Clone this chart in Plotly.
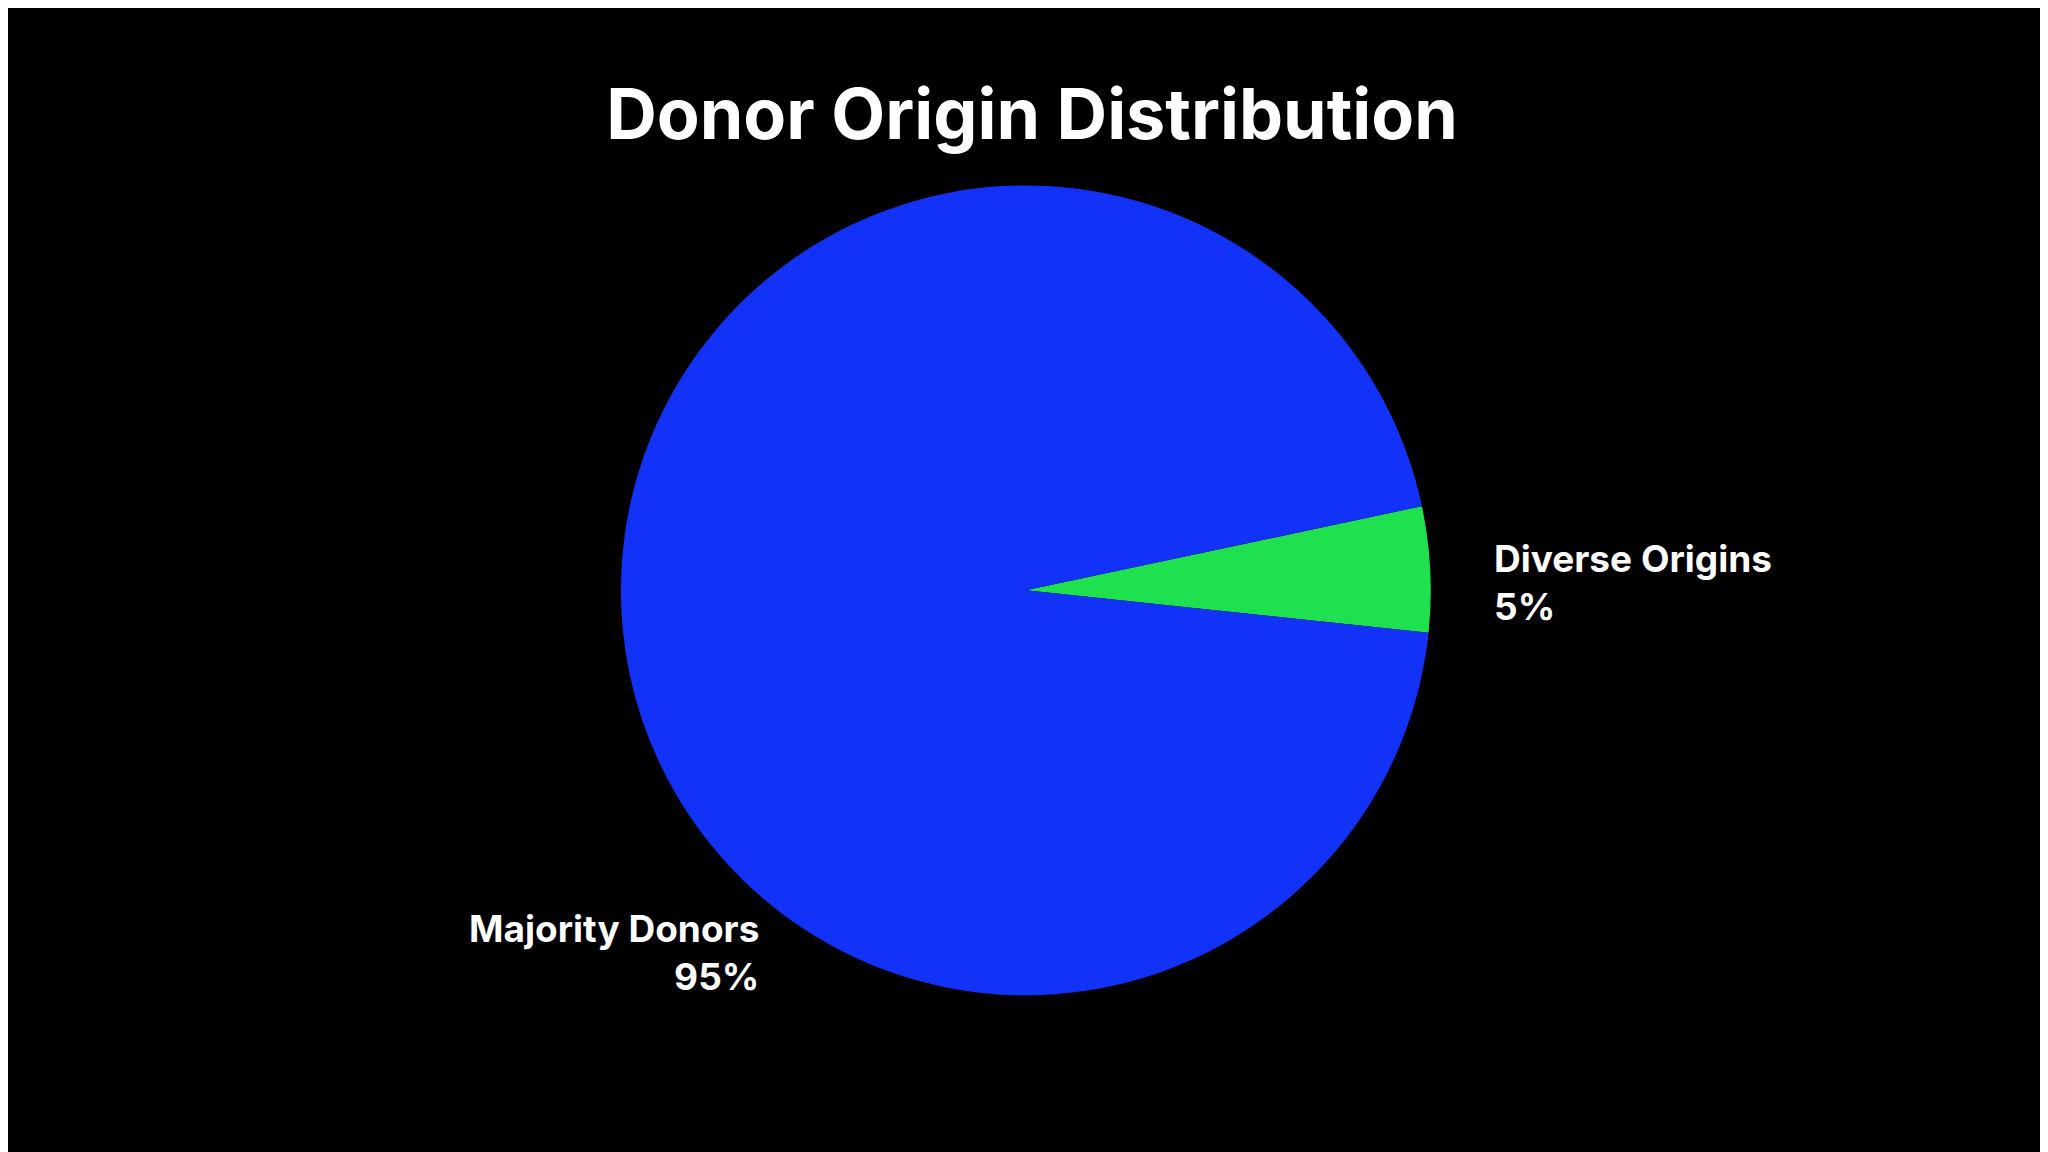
import plotly.graph_objects as go

labels = ["Diverse Origins", "Majority Donors"]
values = [5, 95]
colors = ["#1fe04e", "#1232f7"]

fig = go.Figure(go.Pie(
    labels=labels, values=values, sort=False, direction="clockwise",
    rotation=78, textinfo="none", hoverinfo="label+percent",
    marker=dict(colors=colors, line=dict(width=0)),
    domain=dict(x=[0.299, 0.695], y=[0.143, 0.846]), showlegend=False,
))

fig.add_annotation(x=1484/2048, y=1-574/1152, xref="paper", yref="paper",
                   xanchor="left", yanchor="middle", align="left", showarrow=False,
                   text=f"<b>{labels[0]}<br>{values[0]}%</b>",
                   font=dict(family="Inter", size=37, color="white"))
fig.add_annotation(x=753/2048, y=1-944/1152, xref="paper", yref="paper",
                   xanchor="right", yanchor="middle", align="right", showarrow=False,
                   text=f"<b>{labels[1]}<br>{values[1]}%</b>",
                   font=dict(family="Inter", size=37, color="white"))

fig.update_layout(
    width=2048, height=1152, paper_bgcolor="black", plot_bgcolor="black",
    margin=dict(l=0, r=0, t=0, b=0),
    title=dict(text="<b>Donor Origin Distribution</b>", x=0.5, xanchor="center",
               y=1-106/1152, yanchor="middle",
               font=dict(family="Inter", size=70, color="white")),
)
fig.write_html("out.html")
